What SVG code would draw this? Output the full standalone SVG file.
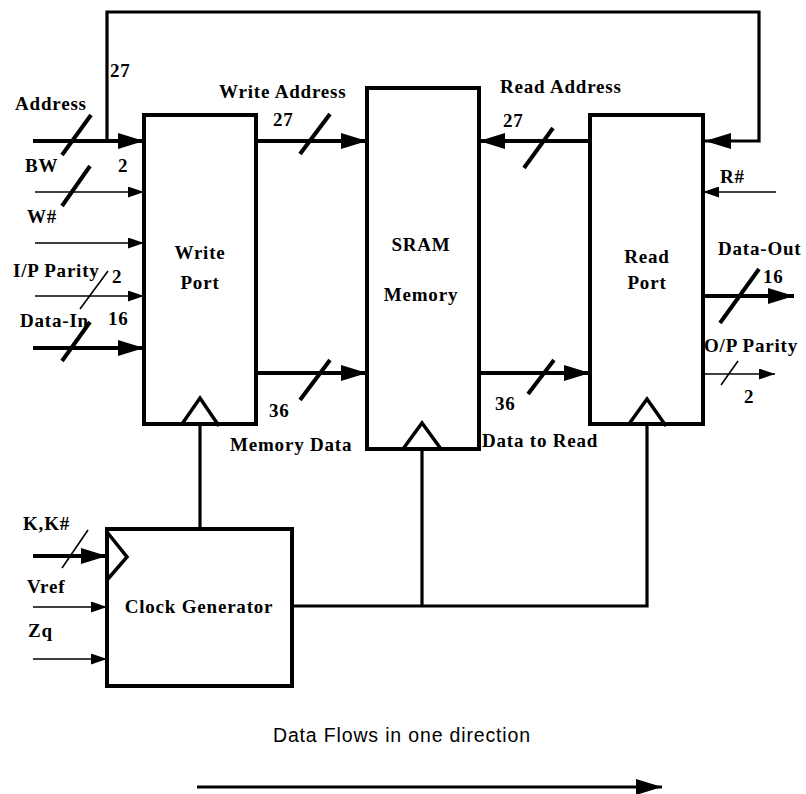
<svg xmlns="http://www.w3.org/2000/svg" width="806" height="794" viewBox="0 0 806 794">
<defs>
<style>
.box{fill:#fff;stroke:#000;stroke-width:4}
.lbl{font-family:"Liberation Serif","Times New Roman",serif;font-weight:bold;font-size:19px;letter-spacing:0.8px;fill:#000}
.ctr{text-anchor:middle}
.thick{stroke:#000;stroke-width:4;fill:none}
.thin{stroke:#000;stroke-width:1.6;fill:none}
.fb{stroke:#000;stroke-width:3.2;fill:none}
.clk{stroke:#000;stroke-width:3.5;fill:none;stroke-linejoin:miter}
.legend{font-family:"Liberation Sans",Arial,sans-serif;font-size:19.5px;fill:#000}
</style>
<marker id="ah" markerUnits="userSpaceOnUse" markerWidth="26" markerHeight="16" refX="26" refY="8" orient="auto">
<path d="M0,0 L26,8 L0,16 z" fill="#000"/>
</marker>
<marker id="ahs" markerUnits="userSpaceOnUse" markerWidth="16" markerHeight="11" refX="16" refY="5.5" orient="auto">
<path d="M0,0 L16,5.5 L0,11 z" fill="#000"/>
</marker>
</defs>
<rect width="806" height="794" fill="#fff"/>

<g id="connectors">
<!-- feedback loop -->
<polyline class="fb" points="107,141 107,12 759,12 759,141 705,141" marker-end="url(#ah)"/>
<!-- Address -->
<line class="thick" x1="33" y1="141" x2="144" y2="141" marker-end="url(#ah)"/>
<line class="thick" x1="62" y1="155" x2="91" y2="115"/>
<!-- BW -->
<line class="thin" x1="35" y1="192" x2="144" y2="192" marker-end="url(#ahs)"/>
<line class="thick" x1="62" y1="206" x2="90" y2="166"/>
<!-- W# -->
<line class="thin" x1="35" y1="243" x2="144" y2="243" marker-end="url(#ahs)"/>
<!-- I/P Parity -->
<line class="thin" x1="35" y1="296" x2="144" y2="296" marker-end="url(#ahs)"/>
<line class="thin" x1="80" y1="309" x2="108" y2="271"/>
<!-- Data-In -->
<line class="thick" x1="33" y1="348" x2="144" y2="348" marker-end="url(#ah)"/>
<line class="thick" x1="62" y1="361" x2="90" y2="322"/>
<!-- Write Address -->
<line class="thick" x1="256" y1="141" x2="367" y2="141" marker-end="url(#ah)"/>
<line class="thick" x1="300" y1="154" x2="330" y2="114"/>
<!-- Memory Data -->
<line class="thick" x1="256" y1="373" x2="367" y2="373" marker-end="url(#ah)"/>
<line class="thick" x1="300" y1="400" x2="330" y2="360"/>
<!-- Read Address -->
<line class="thick" x1="590" y1="141" x2="479" y2="141" marker-end="url(#ah)"/>
<line class="thick" x1="524" y1="168" x2="553" y2="128"/>
<!-- Data to Read -->
<line class="thick" x1="479" y1="373" x2="590" y2="373" marker-end="url(#ah)"/>
<line class="thick" x1="528" y1="394" x2="554" y2="360"/>
<!-- R# -->
<line class="thin" x1="776" y1="192" x2="703" y2="192" marker-end="url(#ahs)"/>
<!-- Data-Out -->
<line class="thick" x1="703" y1="296" x2="794" y2="296" marker-end="url(#ah)"/>
<line class="thick" x1="720" y1="323" x2="759" y2="269"/>
<!-- O/P Parity -->
<line class="thin" x1="703" y1="374" x2="775" y2="374" marker-end="url(#ahs)"/>
<line class="thin" x1="721" y1="385" x2="738" y2="361"/>
<!-- K,K# -->
<line class="thick" x1="33" y1="556" x2="107" y2="556" marker-end="url(#ah)"/>
<line class="thin" x1="62" y1="568" x2="88" y2="530"/>
<!-- Vref -->
<line class="thin" x1="33" y1="607" x2="107" y2="607" marker-end="url(#ahs)"/>
<!-- Zq -->
<line class="thin" x1="33" y1="659" x2="107" y2="659" marker-end="url(#ahs)"/>
<!-- clock distribution -->
<line class="fb" x1="200" y1="424" x2="200" y2="529"/>
<polyline class="fb" points="292,606 647,606 647,424"/>
<line class="fb" x1="422" y1="449" x2="422" y2="606"/>
<!-- legend arrow -->
<line x1="197" y1="787" x2="662" y2="787" stroke="#000" stroke-width="3" marker-end="url(#ah)"/>
</g>

<g id="write-port">
<rect class="box" x="144" y="115" width="112" height="309"/>
<polyline class="clk" points="182,424 200,398 219,426"/>
<text class="lbl ctr" x="200" y="259">Write</text>
<text class="lbl ctr" x="200" y="289">Port</text>
</g>

<g id="sram-memory">
<rect class="box" x="367" y="88" width="112" height="361"/>
<polyline class="clk" points="403,449 422,423 441,449"/>
<text class="lbl ctr" x="421" y="251">SRAM</text>
<text class="lbl ctr" x="421" y="301">Memory</text>
</g>

<g id="read-port">
<rect class="box" x="590" y="115" width="113" height="309"/>
<polyline class="clk" points="629,424 647,399 666,426"/>
<text class="lbl ctr" x="647" y="263">Read</text>
<text class="lbl ctr" x="647" y="289">Port</text>
</g>

<g id="clock-generator">
<rect class="box" x="107" y="529" width="185" height="157"/>
<polyline class="clk" points="107,532 127,557 107,580"/>
<text class="lbl ctr" x="199" y="613">Clock Generator</text>
</g>

<g id="labels">
<text class="lbl" x="110" y="77">27</text>
<text class="lbl" x="15" y="110">Address</text>
<text class="lbl" x="219" y="98">Write Address</text>
<text class="lbl" x="273" y="126">27</text>
<text class="lbl" x="25" y="172">BW</text>
<text class="lbl" x="118" y="172">2</text>
<text class="lbl" x="27" y="223">W#</text>
<text class="lbl" x="13" y="277">I/P Parity</text>
<text class="lbl" x="112" y="283">2</text>
<text class="lbl" x="20" y="327">Data-In</text>
<text class="lbl" x="108" y="325">16</text>
<text class="lbl" x="269" y="417">36</text>
<text class="lbl" x="230" y="451">Memory Data</text>
<text class="lbl" x="500" y="93">Read Address</text>
<text class="lbl" x="503" y="127">27</text>
<text class="lbl" x="720" y="183">R#</text>
<text class="lbl" x="718" y="255">Data-Out</text>
<text class="lbl" x="763" y="283">16</text>
<text class="lbl" x="704" y="352">O/P Parity</text>
<text class="lbl" x="744" y="403">2</text>
<text class="lbl" x="495" y="410">36</text>
<text class="lbl" x="482" y="447">Data to Read</text>
<text class="lbl" x="23" y="530">K,K#</text>
<text class="lbl" x="27" y="593">Vref</text>
<text class="lbl" x="28" y="637">Zq</text>
<text class="legend" x="273" y="742" textLength="257" lengthAdjust="spacing">Data Flows in one direction</text>
</g>
</svg>
